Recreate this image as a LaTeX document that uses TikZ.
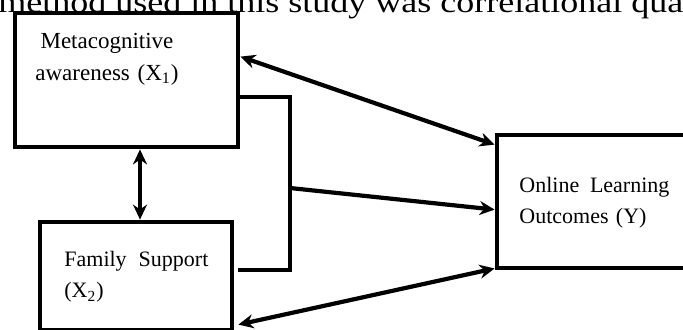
\documentclass[tikz,border=0pt]{standalone}
\usepackage{fontspec}
\setmainfont{Liberation Serif}
\usepackage{graphicx}
\usetikzlibrary{arrows.meta,calc,positioning}

\begin{document}
\begin{tikzpicture}[x=0.5pt,y=-0.5pt,
	varbox/.style={draw, line width=2.4pt, inner sep=0pt},
	boxtext/.style={font=\fontsize{11}{15.5}\selectfont, inner sep=0pt},
	link/.style={line width=2.1pt, line join=miter},
	biarrow/.style={link, {Stealth[length=7.5pt,width=7pt]}-{Stealth[length=7.5pt,width=7pt]}},
	onearrow/.style={link, -{Stealth[length=7.5pt,width=7pt]}}]

	\useasboundingbox (0,0) rectangle (683,329);
	\clip (0,0) rectangle (683,329);

	% line of running text cut by the top edge
	\node[anchor=base west, inner sep=0pt, font=\fontsize{15}{18}\selectfont] (bodyline) at (-2,12)
		{\scalebox{1.2}[1]{method used in this study was correlational qua}};

	\node[varbox, minimum width=111.5pt, minimum height=67pt] (X1) at (126.5,80) {};
	\node[varbox, minimum width=96pt, minimum height=54pt] (X2) at (136,276) {};
	\node[varbox, minimum width=101.5pt, minimum height=66.5pt] (Y) at (598.5,201.5) {};

	\node[boxtext, font=\fontsize{11.5}{16}\selectfont, text width=75pt, align=center] (X1label) at (107,59) {Metacognitive\\awareness (X\textsubscript{1})};
	\node[boxtext, text width=72pt, align=left, anchor=west] (X2label) at (64,277) {Family\hfill Support\\(X\textsubscript{2})};
	\node[boxtext, text width=75pt, align=left, anchor=west] (Ylabel) at (519,203) {Online\hfill Learning\\Outcomes (Y)};

	% joint effect of X1 and X2
	\coordinate (join) at (290,188);
	\draw[link] ($(X1.north east)+(0,86)$) -| (join) |- ($(X2.north east)+(4,50)$);
	\draw[onearrow] (join) -- ($(Y.north west)+(0,77)$);

	\draw[biarrow] ($(X1.north east)+(0,46)$) -- ($(Y.north west)+(0,12)$);
	\draw[biarrow] ($(X2.north east)+(4,105)$) -- ($(Y.south west)+(0,-2)$);
	\draw[biarrow] ($(X1.south)+(13.5,0)$) -- ($(X2.north)+(4,0)$);
\end{tikzpicture}
\end{document}
